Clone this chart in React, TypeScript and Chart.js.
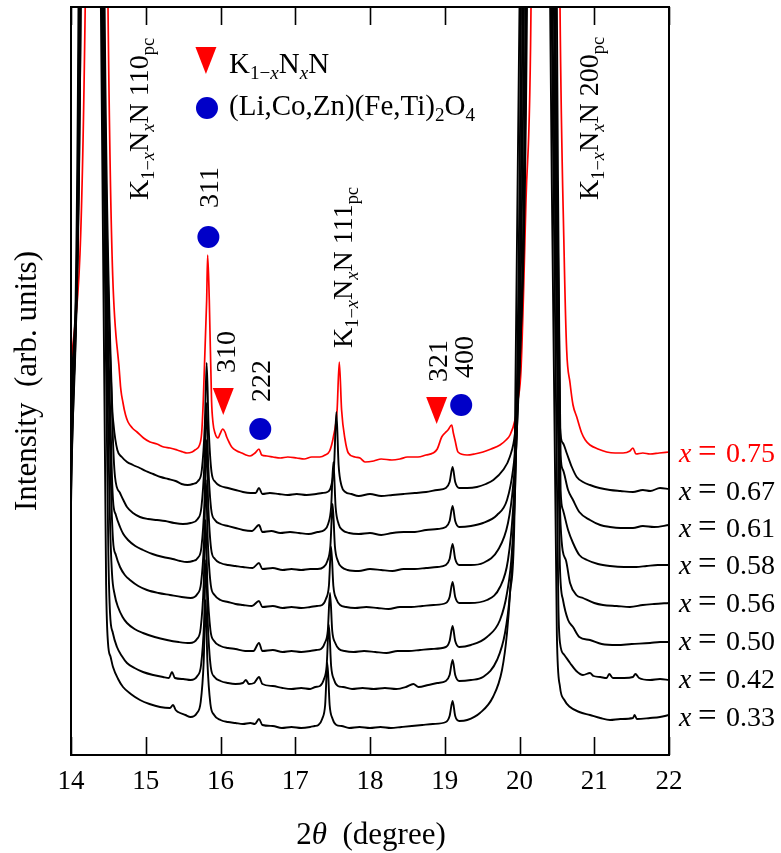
import React, { useEffect, useRef } from "react";
import { Chart, registerables } from "chart.js";
Chart.register(...registerables);

// ---------- data ----------
const xTicks = [14, 15, 16, 17, 18, 19, 20, 21, 22];
const compositions = ["0.75", "0.67", "0.61", "0.58", "0.56", "0.50", "0.42", "0.33"];
// intensity levels where each right-hand label sits (baseline)
const labelLevels = [293, 255, 218, 181, 143, 105, 67, 29];

const s075 = [[14.00,385],[14.19,748],[14.34,3000],[14.495,748],[14.656,375],[14.696,352],[14.73,340],[14.763,333],[14.82,327],[14.883,323],[14.97,317],[15.057,313],[15.15,311],[15.24,308],[15.324,307],[15.42,305],[15.50,303],[15.552,302],[15.62,303],[15.659,305],[15.72,310],[15.748,322],[15.77,355],[15.815,455],[15.828,500],[15.85,455],[15.88,355],[15.90,332],[15.926,322],[15.967,317],[15.993,321],[16.03,326],[16.06,323],[16.083,318],[16.12,312],[16.15,308],[16.22,304],[16.284,302],[16.34,300],[16.395,299],[16.462,302],[16.515,306],[16.551,300],[16.62,299],[16.702,298],[16.80,297],[16.90,298],[17.02,297],[17.12,296],[17.22,298],[17.33,298],[17.40,300],[17.46,304],[17.51,318],[17.56,345],[17.589,393],[17.62,345],[17.665,316],[17.71,302],[17.80,298],[17.866,297],[17.933,293],[18.05,294],[18.15,296],[18.294,295],[18.40,296],[18.50,298],[18.642,298],[18.75,300],[18.843,302],[18.90,306],[18.959,318],[19.003,322],[19.043,325],[19.093,330],[19.115,322],[19.137,315],[19.177,303],[19.298,300],[19.40,301],[19.512,303],[19.62,306],[19.739,310],[19.82,315],[19.873,320],[19.94,335],[19.98,355],[20.02,385],[20.087,555],[20.154,748],[20.34,3000],[20.542,748],[20.596,505],[20.631,405],[20.676,372],[20.716,350],[20.766,338],[20.832,322],[20.88,315],[20.943,310],[21.05,306],[21.166,303],[21.28,302],[21.385,302],[21.478,304],[21.518,307],[21.558,301],[21.65,302],[21.746,301],[21.87,302],[22.0,303]];

const s067 = [[14.00,345],[14.13,748],[14.27,3000],[14.45,748],[14.548,355],[14.57,330],[14.62,305],[14.68,298],[14.75,293],[14.83,290],[14.92,287],[15.00,284],[15.10,281],[15.20,278],[15.30,276],[15.40,274],[15.48,271],[15.56,270],[15.63,271],[15.70,274],[15.75,285],[15.79,330],[15.815,392],[15.84,330],[15.88,283],[15.93,273],[16.00,269],[16.10,267],[16.20,265],[16.30,263],[16.40,262],[16.47,262],[16.515,267],[16.56,261],[16.66,262],[16.78,261],[16.90,260],[17.02,261],[17.15,260],[17.28,261],[17.36,262],[17.43,263],[17.48,269],[17.52,290],[17.55,343],[17.58,290],[17.62,269],[17.67,263],[17.75,261],[17.85,259],[18.0,261],[18.15,259],[18.3,260],[18.45,261],[18.6,262],[18.75,263],[18.9,265],[19.015,267],[19.065,273],[19.105,288],[19.14,273],[19.195,267],[19.30,267],[19.43,268],[19.55,271],[19.65,275],[19.78,285],[19.87,298],[19.94,322],[19.98,362],[20.007,395],[20.10,748],[20.25,3000],[20.50,748],[20.542,328],[20.58,312],[20.631,302],[20.70,288],[20.766,278],[20.85,273],[20.943,270],[21.07,267],[21.211,265],[21.35,264],[21.518,263],[21.65,265],[21.75,264],[21.88,267],[22.0,266]];

const s061 = [[14.00,325],[14.13,748],[14.26,3000],[14.44,748],[14.555,330],[14.589,278],[14.656,262],[14.70,255],[14.749,248],[14.83,242],[14.923,238],[15.03,236],[15.151,235],[15.26,234],[15.38,232],[15.498,231],[15.60,232],[15.695,236],[15.745,248],[15.785,292],[15.81,352],[15.835,292],[15.875,246],[15.925,235],[16.00,231],[16.10,229],[16.20,227],[16.30,225],[16.42,224],[16.515,230],[16.56,223],[16.68,224],[16.80,222],[16.93,223],[17.05,222],[17.18,221],[17.30,223],[17.39,225],[17.44,231],[17.48,248],[17.51,293],[17.54,248],[17.58,231],[17.63,225],[17.72,222],[17.85,221],[18.0,222],[18.15,220],[18.3,222],[18.45,223],[18.6,223],[18.75,225],[18.9,226],[19.015,228],[19.065,234],[19.105,249],[19.14,234],[19.195,228],[19.35,229],[19.512,232],[19.70,240],[19.833,255],[19.913,285],[19.967,328],[19.993,378],[20.09,748],[20.23,3000],[20.48,748],[20.55,300],[20.582,285],[20.65,265],[20.716,255],[20.80,243],[20.943,235],[21.08,230],[21.211,228],[21.35,227],[21.518,227],[21.65,229],[21.80,228],[22.0,230]];

const s058 = [[14.00,305],[14.12,748],[14.25,3000],[14.43,748],[14.54,300],[14.562,255],[14.60,240],[14.656,228],[14.70,221],[14.763,215],[14.86,209],[14.963,205],[15.09,201],[15.231,198],[15.36,196],[15.46,194],[15.552,193],[15.63,194],[15.695,197],[15.745,208],[15.785,252],[15.81,315],[15.835,252],[15.875,206],[15.925,196],[16.00,192],[16.10,190],[16.20,189],[16.30,188],[16.43,187],[16.515,192],[16.56,186],[16.70,187],[16.83,185],[16.95,186],[17.08,185],[17.20,186],[17.30,186],[17.38,188],[17.43,194],[17.47,209],[17.50,251],[17.53,209],[17.57,194],[17.62,188],[17.70,185],[17.85,184],[18.0,186],[18.15,185],[18.3,184],[18.45,186],[18.6,186],[18.75,187],[18.9,188],[19.015,190],[19.065,196],[19.105,211],[19.14,196],[19.195,190],[19.35,190],[19.512,192],[19.712,205],[19.846,232],[19.913,268],[19.967,328],[20.08,748],[20.22,3000],[20.47,748],[20.55,265],[20.582,245],[20.65,225],[20.716,212],[20.80,200],[20.903,195],[21.05,191],[21.211,189],[21.40,188],[21.56,188],[21.70,189],[21.85,190],[22.0,190]];

const s056 = [[14.00,290],[14.12,748],[14.24,3000],[14.425,748],[14.535,270],[14.562,215],[14.60,200],[14.656,188],[14.72,180],[14.789,175],[14.90,169],[15.017,165],[15.17,162],[15.324,160],[15.48,158],[15.60,157],[15.69,161],[15.74,172],[15.78,214],[15.805,275],[15.83,214],[15.87,170],[15.92,160],[16.00,155],[16.10,153],[16.20,151],[16.30,150],[16.42,149],[16.515,154],[16.56,148],[16.70,149],[16.83,147],[16.95,148],[17.08,147],[17.20,148],[17.29,149],[17.36,150],[17.41,156],[17.45,169],[17.48,208],[17.51,169],[17.55,156],[17.60,150],[17.68,148],[17.80,147],[17.95,148],[18.1,147],[18.25,146],[18.4,148],[18.55,148],[18.7,149],[18.85,150],[19.015,152],[19.065,158],[19.105,173],[19.14,158],[19.195,152],[19.33,152],[19.565,155],[19.739,168],[19.846,195],[19.913,245],[19.96,320],[20.06,748],[20.20,3000],[20.46,748],[20.55,230],[20.62,195],[20.676,172],[20.76,160],[20.849,157],[21.0,152],[21.117,150],[21.30,149],[21.478,148],[21.65,150],[21.80,151],[22.0,152]];

const s050 = [[14.00,275],[14.11,748],[14.23,3000],[14.42,748],[14.52,240],[14.548,182],[14.585,160],[14.629,148],[14.69,138],[14.749,132],[14.85,126],[14.963,122],[15.12,118],[15.284,115],[15.44,113],[15.59,112],[15.685,116],[15.735,127],[15.775,170],[15.80,235],[15.825,170],[15.865,125],[15.915,114],[16.00,109],[16.10,107],[16.20,106],[16.33,104],[16.44,104],[16.515,112],[16.56,104],[16.70,105],[16.83,103],[16.95,104],[17.08,103],[17.20,104],[17.28,105],[17.345,106],[17.395,112],[17.435,124],[17.465,162],[17.495,124],[17.535,112],[17.585,106],[17.66,104],[17.78,103],[17.92,104],[18.07,103],[18.22,102],[18.37,104],[18.52,104],[18.67,105],[18.82,106],[19.015,108],[19.065,114],[19.105,129],[19.14,114],[19.195,108],[19.35,110],[19.565,118],[19.739,135],[19.833,162],[19.90,205],[19.95,290],[20.04,748],[20.18,3000],[20.44,748],[20.54,190],[20.582,155],[20.65,135],[20.716,128],[20.80,118],[20.943,115],[21.10,111],[21.304,110],[21.50,111],[21.746,112],[21.88,113],[22.0,113]];

const s042 = [[14.00,262],[14.11,748],[14.22,3000],[14.41,748],[14.50,200],[14.522,142],[14.56,122],[14.615,108],[14.68,99],[14.749,92],[14.85,87],[14.963,83],[15.10,80],[15.231,78],[15.31,77],[15.351,83],[15.39,77],[15.50,76],[15.60,75],[15.69,79],[15.74,90],[15.78,132],[15.805,195],[15.83,132],[15.87,88],[15.92,78],[16.00,74],[16.10,72],[16.20,71],[16.30,72],[16.34,75],[16.38,71],[16.45,72],[16.515,78],[16.56,71],[16.70,69],[16.83,67],[16.95,66],[17.08,67],[17.20,66],[17.27,68],[17.33,69],[17.38,75],[17.42,89],[17.45,130],[17.48,89],[17.52,75],[17.57,69],[17.64,68],[17.76,66],[17.90,67],[18.05,66],[18.20,67],[18.35,66],[18.48,68],[18.58,71],[18.65,68],[18.78,70],[18.90,72],[19.015,74],[19.065,80],[19.105,95],[19.14,80],[19.195,74],[19.35,75],[19.512,78],[19.699,95],[19.806,122],[19.873,162],[19.93,230],[20.02,748],[20.16,3000],[20.43,748],[20.52,150],[20.542,112],[20.60,100],[20.676,92],[20.76,84],[20.849,80],[20.943,82],[20.99,79],[21.08,78],[21.166,77],[21.20,81],[21.25,77],[21.40,77],[21.518,78],[21.55,81],[21.60,77],[21.746,75],[21.88,76],[22.0,75]];

const s033 = [[14.00,250],[14.10,748],[14.21,3000],[14.40,748],[14.47,170],[14.495,112],[14.53,98],[14.562,88],[14.63,76],[14.696,68],[14.80,61],[14.923,55],[15.05,51],[15.191,48],[15.324,47],[15.365,50],[15.40,45],[15.432,43],[15.53,40],[15.60,38],[15.685,42],[15.735,53],[15.775,93],[15.80,155],[15.825,93],[15.865,51],[15.915,40],[16.00,35],[16.10,33],[16.20,32],[16.30,31],[16.40,32],[16.46,31],[16.515,36],[16.56,30],[16.70,29],[16.82,27],[16.95,28],[17.08,27],[17.20,28],[17.26,29],[17.31,30],[17.36,36],[17.40,50],[17.43,92],[17.46,50],[17.50,36],[17.55,30],[17.62,29],[17.72,27],[17.86,28],[18.0,27],[18.14,28],[18.28,27],[18.42,28],[18.56,29],[18.70,30],[18.84,31],[19.015,33],[19.065,39],[19.105,54],[19.14,39],[19.195,34],[19.30,35],[19.471,42],[19.645,58],[19.766,85],[19.833,122],[19.873,162],[19.93,260],[20.00,748],[20.14,3000],[20.41,748],[20.50,120],[20.542,68],[20.60,55],[20.676,48],[20.80,43],[20.943,40],[21.08,37],[21.211,35],[21.35,36],[21.518,37],[21.54,40],[21.57,36],[21.746,37],[21.88,38],[22.0,40]];

// markers: [2theta, intensity]
const triangleMarks = [[15.805, 708], [16.037, 367], [18.892, 358]]; // top-edge centres
const circleMarks = [[15.819, 647], [15.838, 518], [16.532, 326], [19.22, 350]]; // centres

// rotated peak labels: [2theta of baseline, intensity of start, kind]
const peakLabels: [number, number, string][] = [
  [15.03, 555, "110"],
  [15.967, 547, "311"],
  [16.194, 382, "310"],
  [16.662, 353, "222"],
  [17.76, 407, "111"],
  [19.026, 373, "321"],
  [19.378, 377, "400"],
  [21.05, 555, "200"],
];

// ---------- drawing helpers ----------
const SERIF = '"Liberation Serif", "Times New Roman", serif';
type Seg = [string, string]; // text, style: n | i | s | si
function segFont(style: string, size: number) {
  const sub = style.startsWith("s");
  const it = style.endsWith("i");
  const sz = sub ? size * 0.66 : size;
  return `${it ? "italic " : ""}${sz}px ${SERIF}`;
}
function richWidth(ctx: CanvasRenderingContext2D, segs: Seg[], size: number) {
  let w = 0;
  for (const [t, st] of segs) {
    ctx.font = segFont(st, size);
    w += ctx.measureText(t).width;
  }
  return w;
}
function drawRich(ctx: CanvasRenderingContext2D, segs: Seg[], x: number, y: number, size: number) {
  let cx = x;
  ctx.textAlign = "left";
  ctx.textBaseline = "alphabetic";
  for (const [t, st] of segs) {
    ctx.font = segFont(st, size);
    const dy = st.startsWith("s") ? size * 0.22 : 0;
    ctx.fillText(t, cx, y + dy);
    cx += ctx.measureText(t).width;
  }
}
const KNN: Seg[] = [["K", "n"], ["1\u2212", "s"], ["x", "si"], ["N", "n"], ["x", "si"], ["N", "n"]];

const overlay = {
  id: "overlay",
  afterDraw(chart: any) {
    const { ctx, chartArea: a, scales } = chart;
    const xs = scales.x, ys = scales.y;
    ctx.save();
    ctx.fillStyle = "#000";
    ctx.strokeStyle = "#000";
    // frame
    ctx.lineWidth = 2;
    ctx.strokeRect(a.left, a.top, a.right - a.left, a.bottom - a.top);
    // inward ticks
    ctx.lineWidth = 1.6;
    for (const t of xTicks) {
      const px = Math.round(xs.getPixelForValue(t)) + 0.5;
      ctx.beginPath();
      ctx.moveTo(px, a.bottom);
      ctx.lineTo(px, a.bottom - 18);
      ctx.moveTo(px, a.top);
      ctx.lineTo(px, a.top + 18);
      ctx.stroke();
    }
    // rotated peak labels
    const FS = 28;
    for (const [th, iv, kind] of peakLabels) {
      const px = xs.getPixelForValue(th);
      const py = ys.getPixelForValue(iv);
      let segs: Seg[];
      if (kind === "110" || kind === "111" || kind === "200") {
        segs = [...KNN, [" " + kind, "n"], ["pc", "s"]];
      } else segs = [[kind, "n"]];
      ctx.save();
      ctx.translate(px, py);
      ctx.rotate(-Math.PI / 2);
      ctx.fillStyle = "#000";
      drawRich(ctx, segs, 0, 0, FS);
      ctx.restore();
    }
    // triangles
    ctx.fillStyle = "#ff0000";
    for (const [th, iv] of triangleMarks) {
      const px = xs.getPixelForValue(th);
      const py = ys.getPixelForValue(iv);
      ctx.beginPath();
      ctx.moveTo(px - 10.5, py);
      ctx.lineTo(px + 10.5, py);
      ctx.lineTo(px, py + 27);
      ctx.closePath();
      ctx.fill();
    }
    // circles
    ctx.fillStyle = "#0000c8";
    for (const [th, iv] of circleMarks) {
      const px = xs.getPixelForValue(th);
      const py = ys.getPixelForValue(iv);
      ctx.beginPath();
      ctx.arc(px, py, 11, 0, Math.PI * 2);
      ctx.fill();
    }
    // legend texts
    ctx.fillStyle = "#000";
    const lx = xs.getPixelForValue(16.114);
    drawRich(ctx, KNN, lx, ys.getPixelForValue(682), 29);
    drawRich(ctx, [["(Li,Co,Zn)(Fe,Ti)", "n"], ["2", "s"], ["O", "n"], ["4", "s"]], lx, ys.getPixelForValue(640), 29);
    // composition labels on the right
    compositions.forEach((c, i) => {
      const py = ys.getPixelForValue(labelLevels[i]);
      ctx.fillStyle = i === 0 ? "#ff0000" : "#000";
      const x0 = a.right + 10;
      ctx.textAlign = "left";
      ctx.textBaseline = "alphabetic";
      ctx.font = `italic 28px ${SERIF}`;
      ctx.fillText("x", x0, py);
      ctx.font = `33px ${SERIF}`;
      ctx.fillText("=", x0 + 19, py);
      ctx.font = `28px ${SERIF}`;
      ctx.fillText(c, x0 + 47, py);
    });
    // x title
    ctx.fillStyle = "#000";
    const tsegs: Seg[] = [["2", "n"], ["\u03b8", "i"], ["  (degree)", "n"]];
    const tw = richWidth(ctx, tsegs, 31);
    drawRich(ctx, tsegs, (a.left + a.right) / 2 - tw / 2 + 1, 844, 31);
    // y title
    ctx.save();
    ctx.translate(36, (a.top + a.bottom) / 2);
    ctx.rotate(-Math.PI / 2);
    ctx.font = `31px ${SERIF}`;
    ctx.textAlign = "center";
    ctx.textBaseline = "alphabetic";
    ctx.fillText("Intensity  (arb. units)", 0, 0);
    ctx.restore();
    ctx.restore();
  },
};

export default function App() {
  const ref = useRef<HTMLCanvasElement | null>(null);
  useEffect(() => {
    document.body.style.margin = "0";
    const series = [s067, s061, s058, s056, s050, s042, s033, s075];
    const colors = ["#000", "#000", "#000", "#000", "#000", "#000", "#000", "#ff0000"];
    const names = ["0.67", "0.61", "0.58", "0.56", "0.50", "0.42", "0.33", "0.75"];
    const chart = new Chart(ref.current as HTMLCanvasElement, {
      type: "line",
      data: {
        datasets: series.map((s, i) => ({
          label: "x = " + names[i],
          data: s.map(([x, y]) => ({ x, y })),
          borderColor: colors[i],
          borderWidth: i === 7 ? 1.7 : 1.9,
          pointRadius: 0,
          cubicInterpolationMode: "monotone",
          fill: false,
        })),
      },
      options: {
        animation: false,
        responsive: false,
        devicePixelRatio: 1,
        layout: { padding: { top: 7, right: 112, left: 0, bottom: 0 } },
        plugins: { legend: { display: false }, tooltip: { enabled: false }, title: { display: false } },
        scales: {
          x: {
            type: "linear",
            min: 14,
            max: 22,
            position: "bottom",
            grid: { display: false, drawTicks: false },
            border: { display: false },
            ticks: {
              stepSize: 1,
              color: "#000",
              padding: 11,
              maxRotation: 0,
              font: { family: SERIF, size: 27 },
            },
            afterFit: (s: any) => { s.height = 98; },
          },
          y: {
            type: "linear",
            min: 0,
            max: 748,
            grid: { display: false, drawTicks: false },
            border: { display: false },
            ticks: { display: false },
            afterFit: (s: any) => { s.width = 71; },
          },
        },
      } as any,
      plugins: [overlay],
    });
    return () => chart.destroy();
  }, []);
  return <canvas ref={ref} width={781} height={853} style={{ display: "block" }} />;
}
